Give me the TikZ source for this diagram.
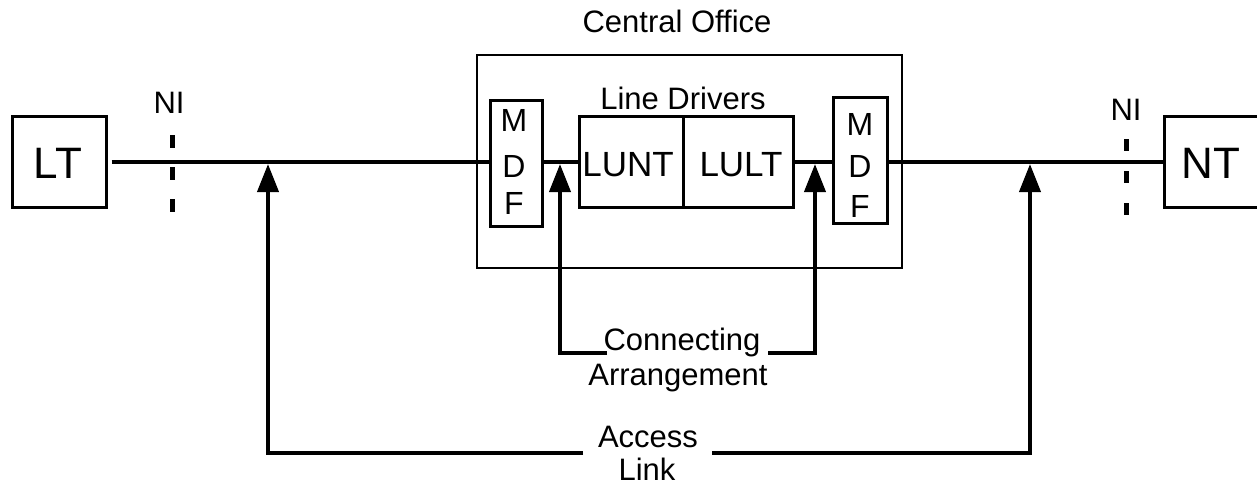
\documentclass[tikz,border=0pt]{standalone}
\usepackage{fontspec}
\setmainfont{Liberation Sans}
\usetikzlibrary{arrows.meta,calc}
\begin{document}
\begin{tikzpicture}[x=1pt,y=-1pt,
  box/.style={draw=black,line width=3pt,inner sep=0pt,minimum width=#1},
  bigtext/.style={font=\fontsize{44}{48}\selectfont},
  midtext/.style={font=\fontsize{31}{35}\selectfont,inner sep=0pt},
  mdftext/.style={font=\fontsize{32}{35}\selectfont,inner sep=0pt},
  ludtext/.style={font=\fontsize{35}{38}\selectfont,inner sep=0pt},
  wire/.style={line width=4pt},
  arrowline/.style={line width=4pt,-{Triangle[length=28pt,width=21pt]}},
  nidash/.style={line width=5pt,dash pattern=on 13pt off 19pt}]
\useasboundingbox (0,0) rectangle (1257,485);
% boxes
\node[box=94pt,minimum height=91pt] (LT) at (59,161.5) {};
\node[box=96pt,minimum height=91pt] (NT) at (1212,161.5) {};
\node[draw=black,line width=2.5pt,minimum width=425pt,minimum height=213pt,inner sep=0pt] (CO) at (689.5,161.5) {};
\node[box=52pt,minimum height=126pt] (MDFL) at (516.5,163.5) {};
\node[box=54pt,minimum height=126pt] (MDFR) at (860,160) {};
\node[box=104pt,minimum height=91pt] (LUNT) at (631,161.5) {};
\node[box=110pt,minimum height=91pt] (LULT) at (738,161.5) {};
% texts
\node[bigtext,anchor=base,inner sep=0pt] (LTt) at (58,178) {LT};
\node[bigtext,anchor=base,inner sep=0pt] (NTt) at (1211,178) {NT};
\node[ludtext,anchor=base] (LUNTt) at (628,176) {LUNT};
\node[ludtext,anchor=base] (LULTt) at (741,176) {LULT};
\node[midtext,anchor=base] (COt) at (677,32) {Central Office};
\node[midtext,anchor=base] (LDt) at (683,109) {Line Drivers};
\node[midtext,anchor=base] (NIL) at (169,113) {NI};
\node[midtext,anchor=base] (NIR) at (1126,120) {NI};
\node[mdftext,anchor=base] (Ml) at (514,131) {M};
\node[mdftext,anchor=base] (Dl) at (514,177) {D};
\node[mdftext,anchor=base] (Fl) at (514,214) {F};
\node[mdftext,anchor=base] (Mr) at (860,135) {M};
\node[mdftext,anchor=base] (Dr) at (860,177) {D};
\node[mdftext,anchor=base] (Fr) at (860,217) {F};
\node[midtext,anchor=base] (conn) at (682,350) {Connecting};
\node[midtext,anchor=base] (arr) at (678,385) {Arrangement};
\node[midtext,anchor=base] (acc) at (648,447) {Access};
\node[midtext,anchor=base] (link) at (647,480) {Link};
% main wire
\draw[wire] ([xshift=4pt]LT.east) -- (LT.east -| MDFL.west);
\draw[wire] (MDFL.east |- LT.east) -- (LUNT.west);
\draw[wire] (LULT.east) -- (LULT.east -| MDFR.west);
\draw[wire] (MDFR.east |- LT.east) -- (NT.west |- LT.east);
% NI dashes
\coordinate (niLt) at (172,135); \coordinate (niLb) at (172,215);
\coordinate (niRt) at (1126,139); \coordinate (niRb) at (1126,219);
\draw[nidash] (niLt) -- (niLb);
\draw[nidash,dash pattern=on 12pt off 20pt] (niRt) -- (niRb);
% connecting arrangement arrows
\coordinate (cL) at (607,353); \coordinate (cLc) at (560,353); \coordinate (cLt) at (560,164);
\coordinate (cR) at (768,353); \coordinate (cRc) at (815,353); \coordinate (cRt) at (815,164);
\draw[arrowline] (cL) -- (cLc) -- (cLt);
\draw[arrowline] (cR) -- (cRc) -- (cRt);
% access link arrows
\coordinate (aL) at (583,453); \coordinate (aLc) at (268,453); \coordinate (aLt) at (268,164);
\coordinate (aR) at (712,453); \coordinate (aRc) at (1030,453); \coordinate (aRt) at (1030,164);
\draw[arrowline] (aL) -- (aLc) -- (aLt);
\draw[arrowline] (aR) -- (aRc) -- (aRt);
\end{tikzpicture}
\end{document}
